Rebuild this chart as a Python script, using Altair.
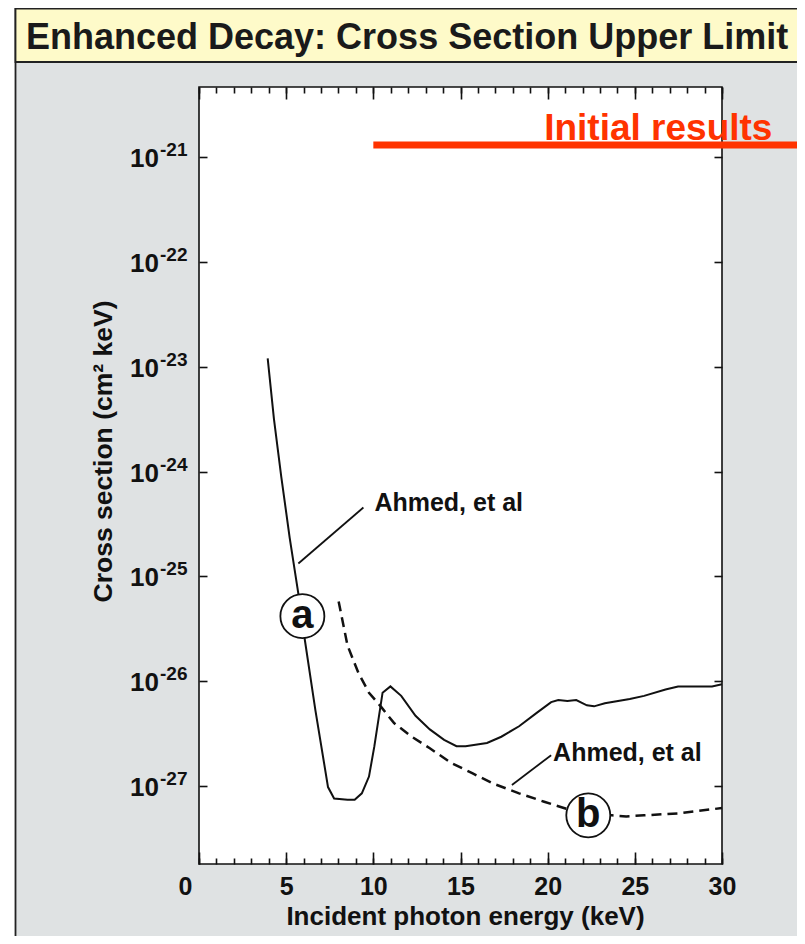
import altair as alt
import pandas as pd

# ---------------- data ----------------
# curve "a" (solid): incident energy (keV) and log10 cross-section
a_energy = [3.94, 4.30, 4.72, 5.20, 5.75, 6.02, 6.68, 7.40,
            7.75, 8.52, 8.93, 9.34, 9.75, 10.06, 10.53, 10.98, 11.60, 12.42,
            13.24, 14.06, 14.77, 15.29, 16.52, 17.34, 18.36, 19.39, 20.20, 20.61,
            21.13, 21.64, 22.25, 22.66, 23.28, 24.71, 25.53, 26.76, 27.48, 28.61,
            29.43, 30.0]
a_log = [-22.92, -23.50, -24.05, -24.63, -25.22, -25.55, -26.28, -27.01,
         -27.12, -27.13, -27.13, -27.07, -26.91, -26.62, -26.11, -26.05, -26.14, -26.33,
         -26.46, -26.56, -26.62, -26.62, -26.59, -26.53, -26.43, -26.30, -26.20, -26.18,
         -26.19, -26.18, -26.23, -26.24, -26.21, -26.17, -26.14, -26.08, -26.05, -26.05,
         -26.05, -26.03]

# curve "b" (dashed)
b_energy = [8.01, 8.52, 9.14, 9.75, 10.47, 11.19, 12.21, 13.24, 14.47, 15.70,
            16.93, 18.36, 19.80, 21.13, 22.36, 23.69, 24.51, 25.53, 27.58, 30.0]
b_log = [-25.24, -25.66, -25.92, -26.11, -26.25, -26.40, -26.53, -26.64, -26.78, -26.88,
         -26.98, -27.07, -27.15, -27.22, -27.27, -27.28, -27.29, -27.28, -27.26, -27.21]

x_ticks_major = [0, 5, 10, 15, 20, 25, 30]
x_ticks_minor = list(range(0, 31))
y_decades = [-27, -26, -25, -24, -23, -22, -21]
y_tick_base = ["10", "10", "10", "10", "10", "10", "10"]
y_tick_exp = ["-27", "-26", "-25", "-24", "-23", "-22", "-21"]

label_names = ["a", "b"]
label_energy = [5.93, 22.33]
label_log = [-25.38, -27.28]

note_text = ["Ahmed, et al", "Ahmed, et al"]
note_energy = [10.06, 20.31]
note_log = [-24.378, -26.763]

leader_x1 = [5.70, 17.95]
leader_log1 = [-24.877, -26.99]
leader_x2 = [9.43, 20.20]
leader_log2 = [-24.343, -26.706]

initial_text = ["Initial results"]
initial_x = [19.8]
initial_log = [-20.84]
initial_line_x1 = [10.0]
initial_line_x2 = [35.0]
initial_line_log = [-20.886]

title_text = "Enhanced Decay: Cross Section Upper Limit"
x_title = "Incident photon energy (keV)"
y_title = "Cross section (cm\u00b2  keV)"

# ---------------- frames ----------------
df_a = pd.DataFrame({"energy": a_energy, "sigma": [10 ** v for v in a_log]})
df_b = pd.DataFrame({"energy": b_energy, "sigma": [10 ** v for v in b_log]})
df_lbl = pd.DataFrame({"energy": label_energy, "sigma": [10 ** v for v in label_log], "name": label_names})
df_note = pd.DataFrame({"energy": note_energy, "sigma": [10 ** v for v in note_log], "t": note_text})
df_lead = pd.DataFrame({"x1": leader_x1, "y1": [10 ** v for v in leader_log1],
                        "x2": leader_x2, "y2": [10 ** v for v in leader_log2]})
df_red = pd.DataFrame({"x1": initial_line_x1, "x2": initial_line_x2,
                       "y": [10 ** v for v in initial_line_log]})
df_redtxt = pd.DataFrame({"energy": initial_x, "sigma": [10 ** v for v in initial_log], "t": initial_text})
df_dec = pd.DataFrame({"sigma": [10 ** d for d in y_decades], "base": y_tick_base, "exp": y_tick_exp})
df_axis = pd.DataFrame({"energy": [0, 30], "sigma": [10 ** -27, 10 ** -21]})
one = pd.DataFrame({"k": [0]})

# ---------------- styling ----------------
W, H = 523, 777
FONT = "Liberation Sans"
INK = "#111111"
RED = "#ff3300"
GRAY = "#dfe2e3"
YELLOW = "#fefac9"

xs = alt.Scale(domain=[0, 30], nice=False, zero=False)
ys = alt.Scale(type="log", domain=[10 ** -27.744, 10 ** -20.332], nice=False)


def X(field, axis=None):
    return alt.X(field, type="quantitative", scale=xs, axis=axis)


def Y(field, axis=None):
    return alt.Y(field, type="quantitative", scale=ys, axis=axis)


def tick_axis(orient, values, size, offset=0):
    return alt.Axis(orient=orient, values=values, offset=offset, grid=False, domain=False,
                    labels=False, title=None, ticks=True, tickSize=size,
                    tickColor=INK, tickWidth=1.6)


# decorative frame
strip = alt.Chart(one).mark_rect(fill="white").encode(
    x=alt.value(-196), x2=alt.value(-183.5), y=alt.value(-90), y2=alt.value(860))
border = alt.Chart(one).mark_rule(color="#222222", strokeWidth=1.8).encode(
    x=alt.value(-183.5), y=alt.value(-90), y2=alt.value(860))
band = alt.Chart(one).mark_rect(fill=YELLOW, stroke="#222222", strokeWidth=1.8).encode(
    x=alt.value(-183.5), x2=alt.value(640), y=alt.value(-78.5), y2=alt.value(-25))
band_text = alt.Chart(one).mark_text(
    text=title_text, align="left", baseline="alphabetic", font=FONT, fontSize=36,
    fontWeight="bold", color="#1a1a1a").encode(x=alt.value(-173), y=alt.value(-38))

# data marks
line_a = alt.Chart(df_a).mark_line(color=INK, strokeWidth=2).encode(
    x=X("energy"), y=Y("sigma"))
line_b = alt.Chart(df_b).mark_line(color=INK, strokeWidth=2.5, strokeDash=[10, 6]).encode(
    x=X("energy"), y=Y("sigma"))
leaders = alt.Chart(df_lead).mark_rule(color=INK, strokeWidth=1.8).encode(
    x=X("x1"), x2="x2", y=Y("y1"), y2="y2")
circles = alt.Chart(df_lbl).mark_point(
    shape="circle", filled=True, fill="white", fillOpacity=1, opacity=1,
    stroke=INK, strokeWidth=1.8, size=1936).encode(x=X("energy"), y=Y("sigma"))
letters = alt.Chart(df_lbl).mark_text(
    font=FONT, fontSize=40, fontWeight="bold", color=INK, baseline="middle", align="center").encode(
    x=X("energy"), y=Y("sigma"), text="name:N")
notes = alt.Chart(df_note).mark_text(
    font=FONT, fontSize=25, fontWeight="bold", color=INK, align="left", baseline="alphabetic").encode(
    x=X("energy"), y=Y("sigma"), text="t:N")
red_line = alt.Chart(df_red).mark_rule(color=RED, strokeWidth=7).encode(
    x=X("x1"), x2="x2", y=Y("y"))
red_text = alt.Chart(df_redtxt).mark_text(
    font=FONT, fontSize=37, fontWeight="bold", color=RED, align="left", baseline="alphabetic").encode(
    x=X("energy"), y=Y("sigma"), text="t:N")
ylab_base = alt.Chart(df_dec).mark_text(
    font=FONT, fontSize=26, fontWeight="bold", color=INK, align="right", baseline="alphabetic", dy=10).encode(
    x=alt.value(-40), y=Y("sigma"), text="base:N")
ylab_exp = alt.Chart(df_dec).mark_text(
    font=FONT, fontSize=19, fontWeight="bold", color=INK, align="left", baseline="alphabetic", dy=-1).encode(
    x=alt.value(-39), y=Y("sigma"), text="exp:N")

# axes carriers (invisible points)
ax_x_main = alt.Axis(
    orient="bottom", values=x_ticks_major, grid=False, domain=False, ticks=False, tickSize=0,
    labels=True, labelFont=FONT, labelFontSize=25, labelFontWeight="bold", labelColor=INK,
    labelPadding=10, labelFlush=False,
    labelAlign={"condition": {"test": "datum.value === 0", "value": "right"}, "value": "center"},
    labelOffset={"condition": {"test": "datum.value === 0", "value": -7}, "value": 0},
    title=x_title, titleFont=FONT, titleFontSize=26, titleFontWeight="bold", titleColor=INK,
    titleX=266, titleY=60, titleBaseline="alphabetic", titleAlign="center")
ax_y_main = alt.Axis(
    orient="left", grid=False, domain=False, ticks=False, tickSize=0, labels=False,
    title=y_title, titleFont=FONT, titleFontSize=26.5, titleFontWeight="bold", titleColor=INK,
    titleAngle=270, titleX=-88, titleY=364, titleBaseline="alphabetic", titleAlign="center")


def carrier(xaxis=None, yaxis=None):
    return alt.Chart(df_axis).mark_point(opacity=0).encode(
        x=X("energy", xaxis), y=Y("sigma", yaxis))


carriers = [
    carrier(xaxis=ax_x_main, yaxis=ax_y_main),
    carrier(xaxis=tick_axis("top", x_ticks_major, 12, offset=-H)),
    carrier(xaxis=tick_axis("top", x_ticks_minor, 6, offset=-H)),
    carrier(xaxis=tick_axis("bottom", x_ticks_major, 12, offset=-H)),
    carrier(xaxis=tick_axis("bottom", x_ticks_minor, 6, offset=-H)),
    carrier(yaxis=tick_axis("right", [10 ** d for d in y_decades], 8, offset=-W)),
    carrier(yaxis=tick_axis("left", [10 ** d for d in y_decades], 8, offset=-W)),
]

chart = alt.layer(
    strip, border, band, band_text,
    line_a, line_b, leaders, circles, letters, notes,
    red_line, red_text, ylab_base, ylab_exp,
    *carriers,
).resolve_scale(x="independent", y="independent").properties(
    width=W, height=H,
    padding={"left": 191, "top": 79, "right": 75, "bottom": 72},
    autosize=alt.AutoSizeParams(type="none"),
    background=GRAY,
).configure_view(fill="white", stroke=INK, strokeWidth=1.6)

chart.save("out.html", embed_options={"renderer": "svg", "actions": False})
